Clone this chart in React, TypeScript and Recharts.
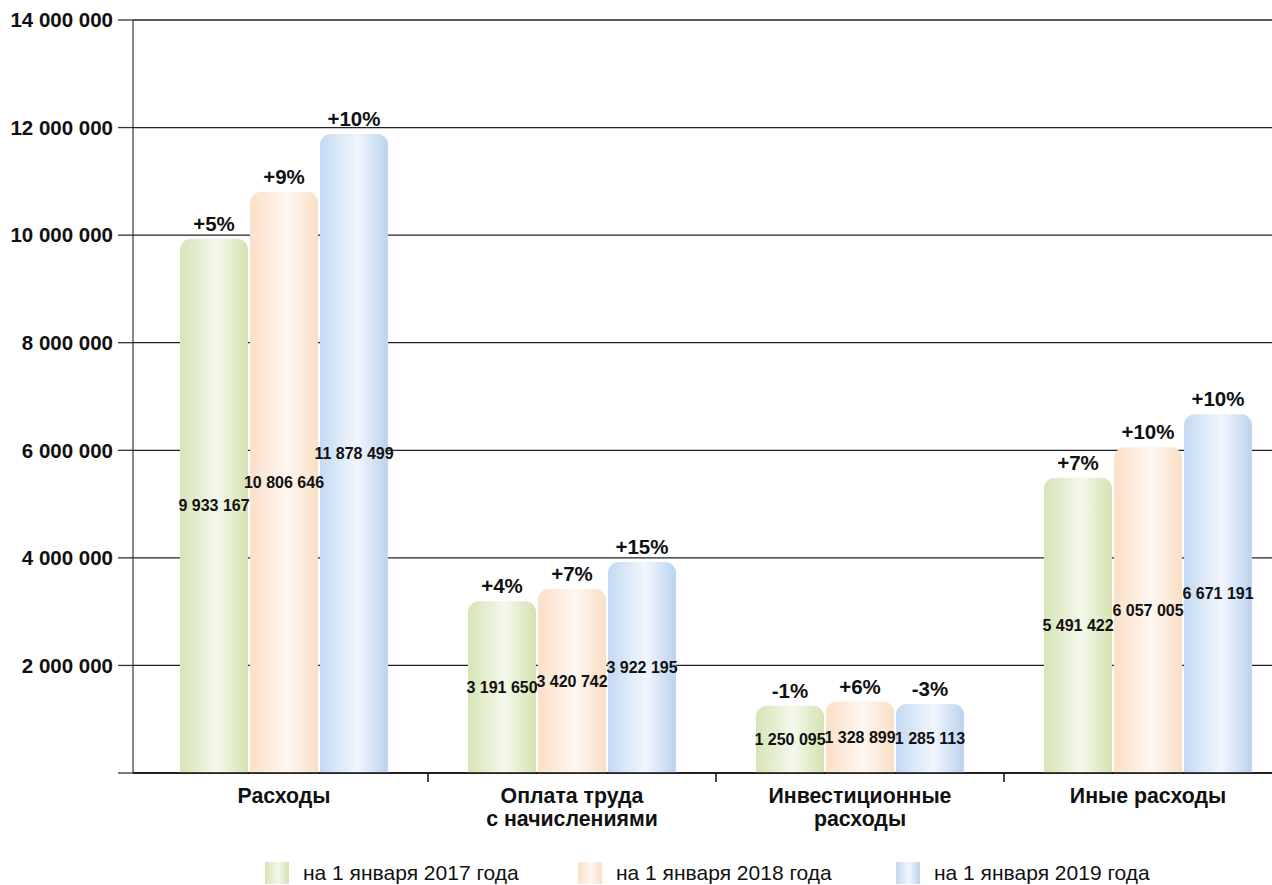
import React from 'react';
import { BarChart, Bar, XAxis, YAxis, CartesianGrid, Legend, LabelList } from 'recharts';

const categories = ['Расходы', 'Оплата труда\nс начислениями', 'Инвестиционные\nрасходы', 'Иные расходы'];
const values2017 = [9933167, 3191650, 1250095, 5491422];
const values2018 = [10806646, 3420742, 1328899, 6057005];
const values2019 = [11878499, 3922195, 1285113, 6671191];
const change2017 = ['+5%', '+4%', '-1%', '+7%'];
const change2018 = ['+9%', '+7%', '+6%', '+10%'];
const change2019 = ['+10%', '+15%', '-3%', '+10%'];
const seriesNames = ['на 1 января 2017 года', 'на 1 января 2018 года', 'на 1 января 2019 года'];
const yTicks = [0, 2000000, 4000000, 6000000, 8000000, 10000000, 12000000, 14000000];

const data = categories.map((name, i) => ({
  name,
  v17: values2017[i],
  v18: values2018[i],
  v19: values2019[i],
  p17: change2017[i],
  p18: change2018[i],
  p19: change2019[i],
}));

const FONT = '"Liberation Sans", Arial, Helvetica, sans-serif';

// [edge, light middle, edge]
const gradients = [
  { id: 'g17', stops: ['#d7e4b6', '#f4f8ec', '#d5e2b1'] },
  { id: 'g18', stops: ['#fbe0c9', '#fdf6f1', '#fadfc6'] },
  { id: 'g19', stops: ['#c3d9f2', '#f2f6fd', '#bad3ef'] },
];

const fmt = (v: number) => String(v).replace(/\B(?=(\d{3})+(?!\d))/g, ' ');

const CategoryTick = (props: any) => {
  const { x, y, payload, index } = props;
  const half = payload && payload.offset ? payload.offset : 144;
  const lines = String(payload.value).split('\n');
  return (
    <g>
      {index < categories.length - 1 && (
        <line x1={x + half} x2={x + half} y1={y} y2={y + 9} stroke="#111" strokeWidth={1.5} />
      )}
      {lines.map((l, k) => (
        <text key={k} x={x} y={y + 30 + k * 23} textAnchor="middle" fontFamily={FONT} fontWeight="bold" fontSize={21.3} fill="#111">
          {l}
        </text>
      ))}
    </g>
  );
};

// value in the middle of the bar, allowed to spill past the bar edges
const ValueLabel = (props: any) => {
  const { x, y, width, height, value } = props;
  return (
    <text
      x={Number(x) + Number(width) / 2}
      y={Number(y) + Number(height) / 2}
      textAnchor="middle"
      dominantBaseline="central"
      fontFamily={FONT}
      fontWeight="bold"
      fontSize={16}
      fill="#111"
    >
      {fmt(Number(value))}
    </text>
  );
};

const LegendContent = () => {
  const lefts = [265, 578, 896];
  return (
    <div style={{ position: 'relative', width: 1272, height: 25, fontFamily: FONT }}>
      {seriesNames.map((n, i) => {
        const s = gradients[i].stops;
        return (
          <div key={n} style={{ position: 'absolute', left: lefts[i], top: 0, display: 'flex', alignItems: 'flex-start' }}>
            <div style={{ width: 24, height: 22, background: `linear-gradient(to right, ${s[0]}, ${s[1]} 55%, ${s[2]})` }} />
            <span style={{ marginLeft: 14, fontSize: 21, lineHeight: '22px', marginTop: 0, color: '#111', whiteSpace: 'nowrap' }}>{n}</span>
          </div>
        );
      })}
    </div>
  );
};

const pctLabel = { fontFamily: FONT, fontWeight: 'bold', fontSize: 20.5, fill: '#111' } as any;
const keys = ['17', '18', '19'];

export default function App() {
  return (
    <div style={{ width: 1272, height: 885, overflow: 'hidden', position: 'relative', background: '#fff' }}>
      <style>{'body{margin:0}'}</style>
      <BarChart
        width={1292}
        height={885}
        data={data}
        margin={{ top: 20, right: 0, left: 0, bottom: 32 }}
        barSize={68}
        barGap={2}
      >
        <defs>
          {gradients.map((g) => (
            <linearGradient key={g.id} id={g.id} x1="0" y1="0" x2="1" y2="0">
              <stop offset="0%" stopColor={g.stops[0]} />
              <stop offset="55%" stopColor={g.stops[1]} />
              <stop offset="100%" stopColor={g.stops[2]} />
            </linearGradient>
          ))}
        </defs>
        <CartesianGrid vertical={false} stroke="#222" strokeWidth={1.3} />
        <XAxis
          dataKey="name"
          interval={0}
          padding={{ left: 7, right: 0 }}
          height={80}
          tickSize={0}
          tickMargin={0}
          tickLine={false}
          axisLine={{ stroke: '#111', strokeWidth: 1.5 }}
          tick={<CategoryTick />}
        />
        {/* same band layout, only used to draw the labels above every bar */}
        <XAxis xAxisId="labels" dataKey="name" padding={{ left: 7, right: 0 }} hide />
        <YAxis
          width={133}
          domain={[0, 14000000]}
          ticks={yTicks}
          interval={0}
          tickSize={15}
          tickMargin={5}
          tickLine={{ stroke: '#333', strokeWidth: 1.3 }}
          axisLine={{ stroke: '#111', strokeWidth: 1 }}
          tickFormatter={(v: number) => (v === 0 ? '' : fmt(v))}
          tick={{ fontFamily: FONT, fontWeight: 'bold', fontSize: 20.5, fill: '#111' }}
        />
        <Legend verticalAlign="middle" align="center" layout="horizontal" wrapperStyle={{ top: 862, left: 0, width: 1272 }} content={<LegendContent />} />
        {keys.map((k, i) => (
          <Bar key={'b' + k} dataKey={'v' + k} name={seriesNames[i]} fill={`url(#g${k})`} radius={[11, 11, 0, 0]} isAnimationActive={false} />
        ))}
        {keys.map((k) => (
          <Bar key={'l' + k} xAxisId="labels" dataKey={'v' + k} fill="none" legendType="none" isAnimationActive={false}>
            <LabelList dataKey={'p' + k} position="top" offset={8} style={pctLabel} />
            <LabelList dataKey={'v' + k} content={<ValueLabel />} />
          </Bar>
        ))}
      </BarChart>
    </div>
  );
}
